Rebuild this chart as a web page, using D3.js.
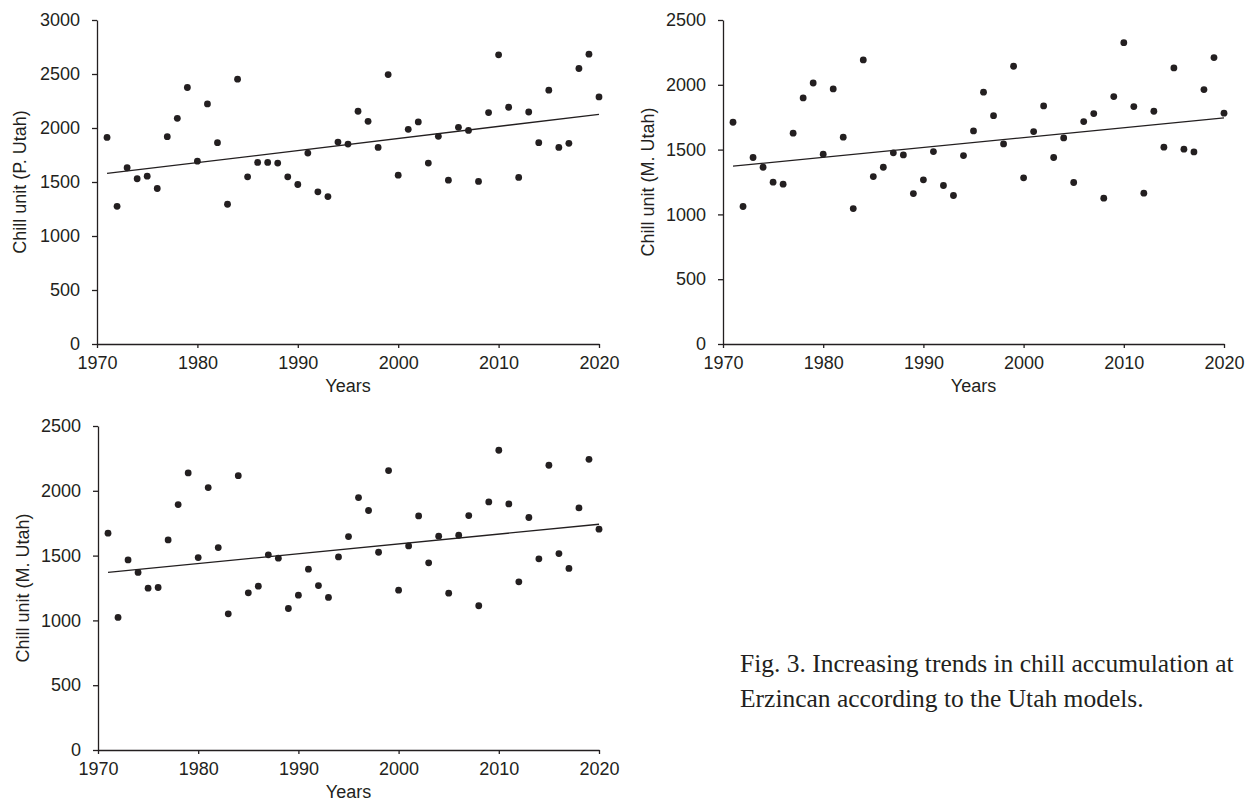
<!DOCTYPE html>
<html>
<head>
<meta charset="utf-8">
<script src="https://cdn.jsdelivr.net/npm/d3@7"></script>
<style>
  body { margin: 0; background: #fff; }
  text { fill: #231f20; }
</style>
</head>
<body>
<div id="chart"></div>
<script>
// lata 1971-2020
const years = [1971,1972,1973,1974,1975,1976,1977,1978,1979,1980,
  1981,1982,1983,1984,1985,1986,1987,1988,1989,1990,
  1991,1992,1993,1994,1995,1996,1997,1998,1999,2000,
  2001,2002,2003,2004,2005,2006,2007,2008,2009,2010,
  2011,2012,2013,2014,2015,2016,2017,2018,2019,2020];

// chill units - P. Utah (panel 1)
const pUtah = [1913,1275,1632,1530,1554,1440,1920,2090,2375,1693,
  2223,1864,1294,2452,1548,1681,1681,1675,1548,1477,
  1768,1409,1365,1870,1851,2155,2062,1820,2495,1563,
  1988,2056,1675,1923,1517,2006,1978,1505,2143,2678,
  2192,1542,2148,1864,2350,1820,1858,2551,2684,2288];

// M. Utah (panel 2)
const mUtahA = [1711,1061,1439,1364,1249,1233,1627,1899,2014,1465,
  1968,1596,1045,2192,1292,1364,1475,1459,1161,1267,
  1485,1223,1146,1454,1644,1943,1762,1544,2143,1282,
  1639,1837,1439,1590,1246,1716,1778,1125,1909,2325,
  1832,1164,1796,1519,2130,1503,1482,1963,2210,1781];

// M. Utah (panel 3)
const mUtahB = [1673,1023,1467,1370,1249,1254,1621,1894,2138,1485,
  2025,1562,1051,2117,1213,1264,1506,1480,1092,1195,
  1395,1269,1177,1490,1647,1948,1848,1526,2156,1233,
  1575,1806,1444,1650,1210,1657,1809,1113,1914,2313,
  1899,1298,1794,1475,2197,1516,1401,1868,2243,1704];

// linie trendu: [wartosc 1971, wartosc 2020]
const trendP = [1579, 2127];
const trendA = [1372, 1745];
const trendB = [1370, 1742];

const xTicks = [1970,1980,1990,2000,2010,2020];
const yTicks3000 = [0,500,1000,1500,2000,2500,3000];
const yTicks2500 = [0,500,1000,1500,2000,2500];

const captionLines = [
  "Fig. 3. Increasing trends in chill accumulation at",
  "Erzincan according to the Utah models."
];

const width = 1248, height = 801;
const ink = "#231f20";

const svg = d3.select("#chart").append("svg")
  .attr("width", width)
  .attr("height", height)
  .style("font-family", "'Liberation Sans', Arial, sans-serif");

function panel(p) {
  const x = d3.scaleLinear().domain([1970, 2020]).range([p.left, p.right]);
  const y = d3.scaleLinear().domain([0, p.yMax]).range([p.bottom, p.top]);
  const g = svg.append("g");

  const xAxis = g.append("g")
    .attr("transform", `translate(0,${p.bottom})`)
    .call(d3.axisBottom(x).tickValues(xTicks).tickFormat(d3.format("d"))
      .tickSizeOuter(0).tickSizeInner(4).tickPadding(8));
  const yAxis = g.append("g")
    .attr("transform", `translate(${p.left},0)`)
    .call(d3.axisLeft(y).tickValues(p.yTicks).tickFormat(d3.format("d"))
      .tickSizeOuter(0).tickSizeInner(5).tickPadding(12));

  [xAxis, yAxis].forEach(a => {
    a.selectAll("path, line").attr("stroke", ink).attr("stroke-width", 1.3);
    a.selectAll("text").attr("font-size", 18).attr("fill", ink)
      .attr("font-family", "'Liberation Sans', Arial, sans-serif");
  });

  // trend
  const x0 = years[0], x1 = years[years.length - 1];
  g.append("line")
    .attr("x1", x(x0)).attr("y1", y(p.trend[0]))
    .attr("x2", x(x1)).attr("y2", y(p.trend[1]))
    .attr("stroke", ink).attr("stroke-width", 1.3);

  g.selectAll("circle")
    .data(years.map((yr, i) => [yr, p.values[i]]))
    .join("circle")
    .attr("cx", d => x(d[0]))
    .attr("cy", d => y(d[1]))
    .attr("r", 3.4)
    .attr("fill", ink);

  g.append("text")
    .attr("transform", `translate(${p.titleX},${(p.top + p.bottom) / 2}) rotate(-90)`)
    .attr("text-anchor", "middle")
    .attr("dy", "0.35em")
    .attr("font-size", 18)
    .text(p.yTitle);

  g.append("text")
    .attr("x", (p.left + p.right) / 2)
    .attr("y", p.bottom + 48)
    .attr("text-anchor", "middle")
    .attr("font-size", 18)
    .text("Years");
}

panel({ left: 97, right: 599, top: 20, bottom: 344, yMax: 3000, yTicks: yTicks3000,
  values: pUtah, trend: trendP, yTitle: "Chill unit (P. Utah)", titleX: 20 });
panel({ left: 723, right: 1224, top: 20, bottom: 344, yMax: 2500, yTicks: yTicks2500,
  values: mUtahA, trend: trendA, yTitle: "Chill unit (M. Utah)", titleX: 648 });
panel({ left: 98, right: 599, top: 426, bottom: 750, yMax: 2500, yTicks: yTicks2500,
  values: mUtahB, trend: trendB, yTitle: "Chill unit (M. Utah)", titleX: 23 });

// podpis
svg.append("g").selectAll("text")
  .data(captionLines)
  .join("text")
  .attr("x", 740)
  .attr("y", (d, i) => 672 + i * 35)
  .attr("font-family", "'Liberation Serif', 'Times New Roman', serif")
  .attr("font-size", 25.5)
  .text(d => d);
</script>
</body>
</html>
